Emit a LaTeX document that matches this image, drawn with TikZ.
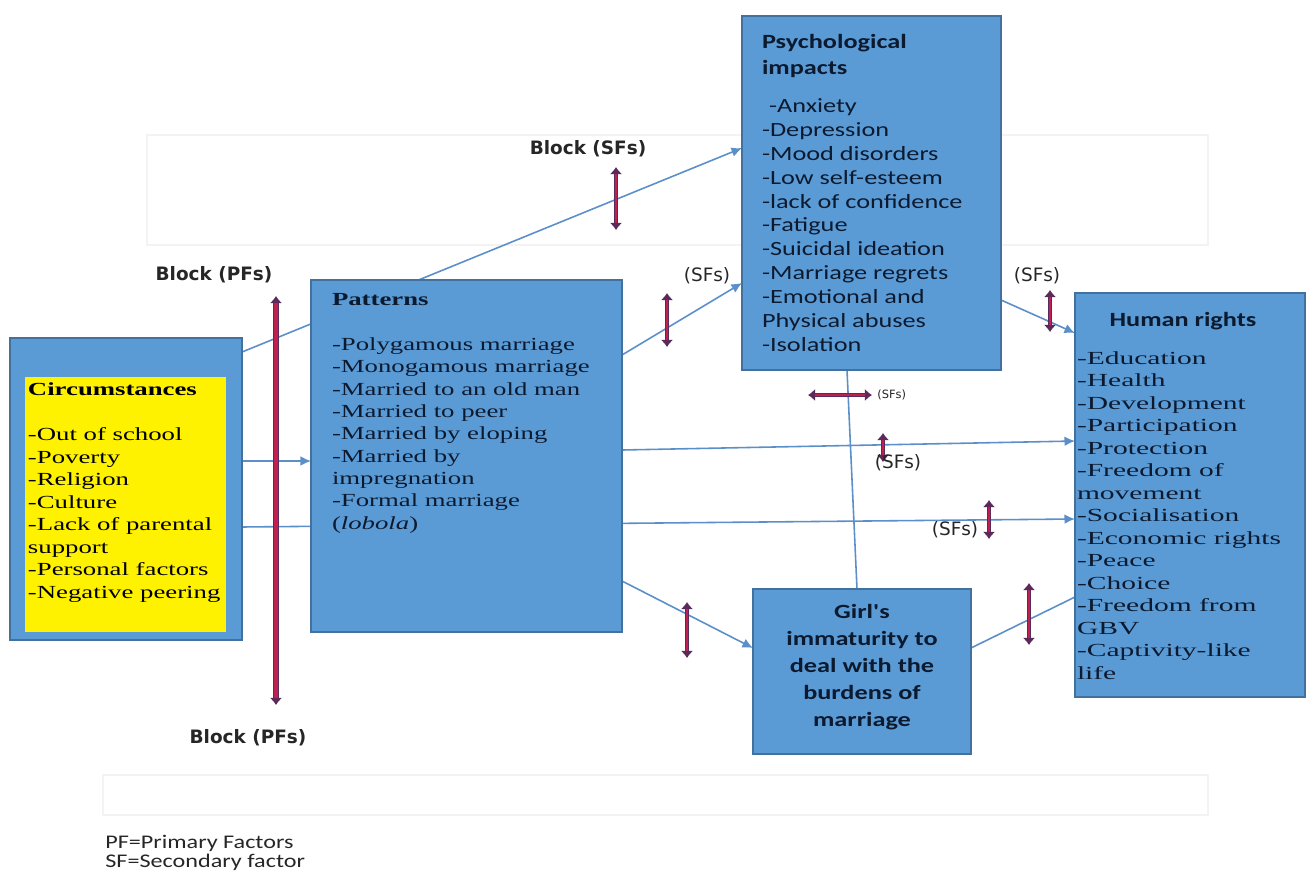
\documentclass[tikz,border=0pt]{standalone}
\usepackage{fontspec}
\setmainfont{Liberation Serif}
\newfontfamily\serifw[FakeStretch=1.45]{Liberation Serif}
\newfontfamily\serifhr[FakeStretch=1.6]{Liberation Serif}
\newfontfamily\calw[FakeStretch=1.3]{Carlito}
\newfontfamily\legf[FakeStretch=1.25]{Carlito}
\newfontfamily\dvs{DejaVu Sans}
\usetikzlibrary{arrows.meta,calc}
\pgfdeclarelayer{background}
\pgfsetlayers{background,main}
\definecolor{boxblue}{HTML}{5B9BD5}
\definecolor{boxedge}{HTML}{41719C}
\definecolor{linkblue}{HTML}{5B8FC9}
\definecolor{txtnavy}{HTML}{0C1A30}
\definecolor{blkdark}{HTML}{5A2A5A}
\definecolor{blkred}{HTML}{C02050}
\definecolor{faintgray}{HTML}{F3F3F3}
\tikzset{
 bluebox/.style={draw=boxedge, line width=0.8pt, fill=boxblue, inner sep=0pt, outer sep=0pt},
 link/.style={draw=linkblue, line width=0.9pt},
 arr/.style={link, -{Latex[length=6pt,width=5.5pt]}},
 txt/.style={inner sep=0pt, outer sep=0pt, text=txtnavy},
 blkout/.style={draw=blkdark, line width=2.8pt, {Latex[length=4pt,width=7pt]}-{Latex[length=4pt,width=7pt]}},
 blkin/.style={draw=blkred, line width=1.5pt, shorten <=4pt, shorten >=4pt},
 blkoutbig/.style={blkout, line width=3.2pt},
 blkinbig/.style={blkin, line width=1.8pt},
 blklabel/.style={inner sep=0pt, text=black!85, font=\dvs\bfseries\fontsize{10.5}{12}\selectfont},
 sflabel/.style={inner sep=0pt, text=black!85, font=\dvs\fontsize{10.5}{12}\selectfont},
}
\begin{document}
\begin{tikzpicture}[x=0.02cm,y=-0.02cm]
\useasboundingbox (0,0) rectangle (1306,870);

% boxes
\node[bluebox, minimum width=4.64cm, minimum height=6.04cm] (circO) at (126,489) {};
\node[fill=yellow, inner sep=0pt, outer sep=0pt, minimum width=4.02cm, minimum height=5.1cm] (circY) at (125.5,504.5) {};
\node[bluebox, minimum width=6.22cm, minimum height=7.04cm] (patt) at (466.5,456) {};
\node[bluebox, minimum width=5.18cm, minimum height=7.08cm] (psych) at (871.5,193) {};
\node[bluebox, minimum width=4.6cm, minimum height=8.08cm] (hr) at (1190,495) {};
\node[bluebox, minimum width=4.36cm, minimum height=3.3cm] (girl) at (862,671.5) {};

% texts (base anchor = baseline of the last line)
\node[txt, text=black, anchor=base west, align=left, font=\serifw\fontsize{10.5}{12.8}\selectfont] (circT) at (28,598)
 {\textbf{Circumstances}\\[12.8pt]-Out of school\\-Poverty\\-Religion\\-Culture\\-Lack of parental\\support\\-Personal factors\\-Negative peering};
\node[txt, anchor=base west, align=left, font=\serifw\fontsize{10.5}{12.7}\selectfont] (pattT) at (332,529)
 {\textbf{Patterns}\\[12.8pt]-Polygamous marriage\\-Monogamous marriage\\-Married to an old man\\-Married to peer\\-Married by eloping\\-Married by\\impregnation\\-Formal marriage\\(\textit{lobola})};
\node[txt, anchor=base west, align=left, font=\calw\bfseries\fontsize{11.5}{14.7}\selectfont] (psychH) at (762,74)
 {Psychological\\impacts};
\node[txt, anchor=base west, align=left, font=\calw\fontsize{11.5}{13.55}\selectfont] (psychT) at (762,351)
 {\hspace*{4pt}-Anxiety\\-Depression\\-Mood disorders\\-Low self-esteem\\-lack of confidence\\-Fatigue\\-Suicidal ideation\\-Marriage regrets\\-Emotional and\\Physical abuses\\-Isolation};
\node[txt, anchor=base, font=\calw\bfseries\fontsize{11.5}{14}\selectfont] (hrH) at (1183,326) {Human rights};
\node[txt, anchor=base west, align=left, font=\serifhr\fontsize{10.5}{12.8}\selectfont] (hrT) at (1077,679)
 {-Education\\-Health\\-Development\\-Participation\\-Protection\\-Freedom of\\movement\\-Socialisation\\-Economic rights\\-Peace\\-Choice\\-Freedom from\\GBV\\-Captivity-like\\life};
\node[txt, anchor=base, align=center, font=\calw\bfseries\fontsize{11.5}{15.3}\selectfont] (girlT) at (862,726)
 {Girl's\\immaturity to\\deal with the\\burdens of\\marriage};

% legend
\node[inner sep=0pt, anchor=base west, align=left, text=black!85, font=\legf\fontsize{11}{10.8}\selectfont] (legend) at (105,867)
 {PF=Primary Factors\\SF=Secondary factor};

% background: faint frames and connectors
\begin{pgfonlayer}{background}
\fill[white] (0,0) rectangle (1306,870);
\draw[faintgray, line width=0.6pt] (147,135) rectangle (1208,245);
\draw[faintgray, line width=0.6pt] (103,775) rectangle (1208,815);
\draw[arr] ([yshift=-0.28cm]circO.north east) -- ([yshift=-2.64cm]psych.north west);
\draw[arr] ([yshift=-2.46cm]circO.north east) -- ([yshift=-3.62cm]patt.north west);
\draw[arr] ([yshift=-3.78cm]circO.north east) -- ([yshift=-4.52cm]hr.north west);
\draw[arr] ([yshift=-3.4cm]patt.north east) -- ([yshift=-2.96cm]hr.north west);
\draw[arr] ([yshift=-1.5cm]patt.north east) -- ([yshift=-5.34cm]psych.north west);
\draw[arr] ([yshift=-6.02cm]patt.north east) -- ([yshift=-1.18cm]girl.north west);
\draw[arr] ([yshift=-5.68cm]psych.north east) -- ([yshift=-0.8cm]hr.north west);
\draw[link] ([yshift=-1.18cm]girl.north east) -- ([yshift=-6.08cm]hr.north west);
\draw[link] ([xshift=2.1cm]psych.south west) -- ([xshift=2.08cm]girl.north west);
\end{pgfonlayer}

% block markers
\draw[blkoutbig] (276,296) -- (276,705); \draw[blkinbig] (276,296) -- (276,705);
\foreach \a/\b in {{(616,167)}/{(616,230)}, {(667,293)}/{(667,347)}, {(1050,290)}/{(1050,332)},
  {(808,395)}/{(872,395)}, {(883,433)}/{(883,462)}, {(989,500)}/{(989,539)},
  {(687,602)}/{(687,658)}, {(1029,583)}/{(1029,645)}}
 {\draw[blkout] \a -- \b; \draw[blkin] \a -- \b;}

% labels
\node[blklabel] (pfTop) at (214,275) {Block (PFs)};
\node[blklabel] (pfBot) at (248,738) {Block (PFs)};
\node[blklabel] (sfTop) at (588,149) {Block (SFs)};
\node[sflabel] (sf1) at (707,276) {(SFs)};
\node[sflabel] (sf2) at (1037,276) {(SFs)};
\node[sflabel, anchor=west, font=\dvs\fontsize{6.5}{8}\selectfont] (sf3) at (877,395) {(SFs)};
\node[sflabel] (sf4) at (898,463) {(SFs)};
\node[sflabel] (sf5) at (955,530) {(SFs)};
\end{tikzpicture}
\end{document}
